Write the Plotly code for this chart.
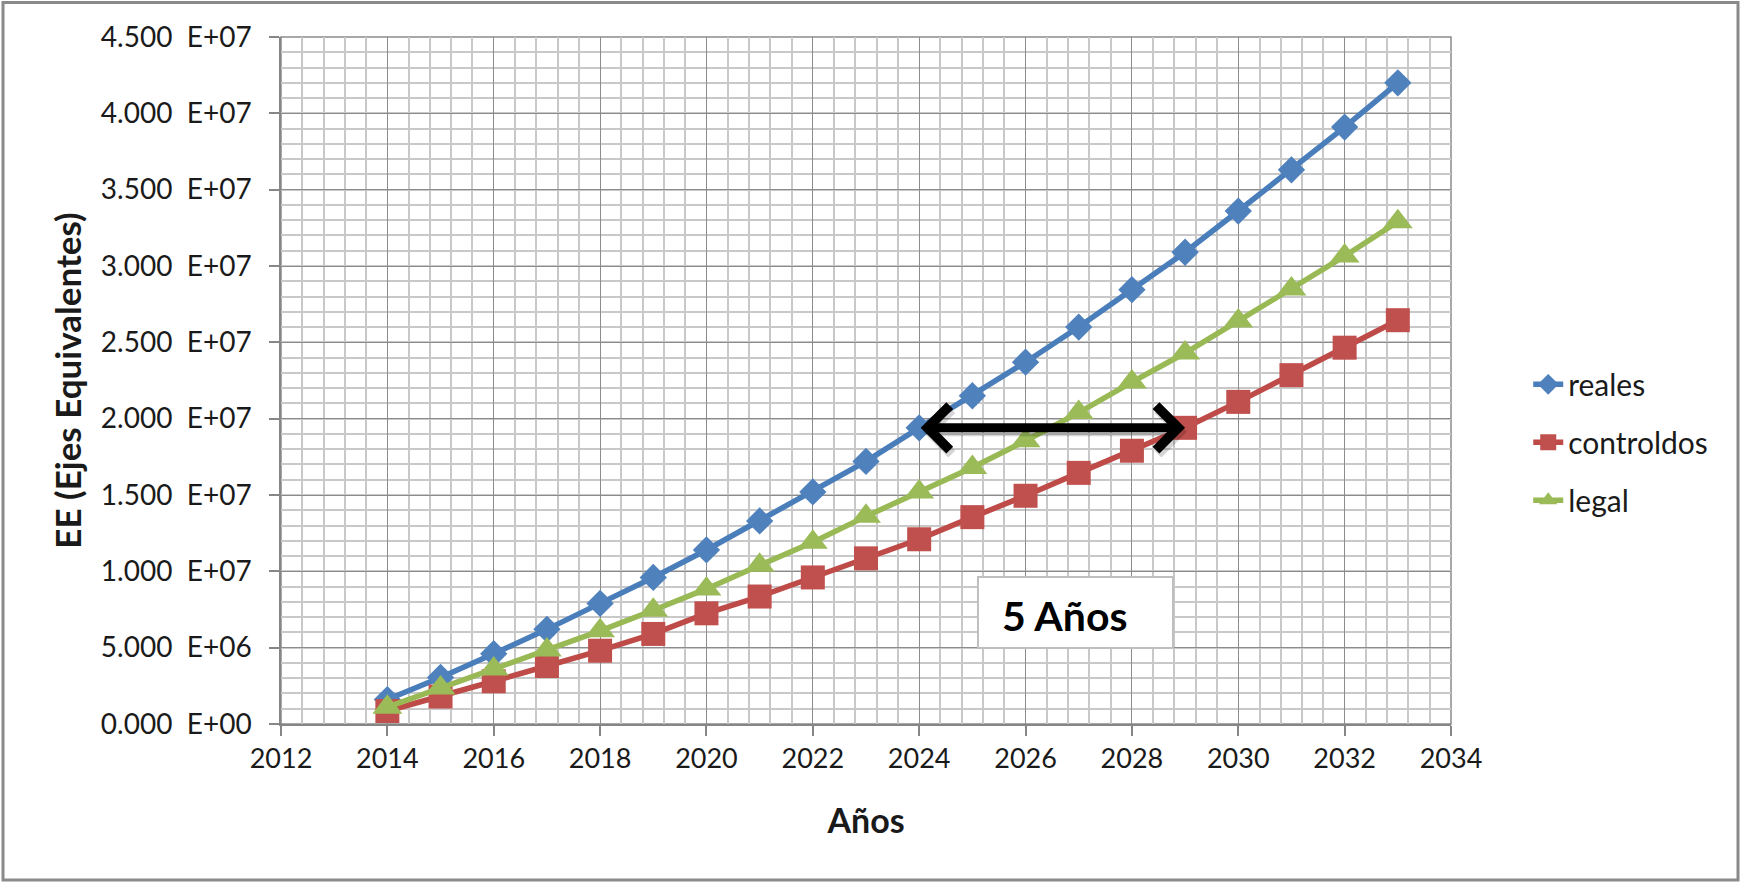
import plotly.graph_objects as go

# Años de proyección
years = list(range(2014, 2034))

# Ejes equivalentes acumulados (valores en unidades)
reales = [1.6e6, 3.05e6, 4.6e6, 6.2e6, 7.9e6, 9.6e6, 11.4e6, 13.3e6, 15.2e6, 17.2e6,
          19.4e6, 21.5e6, 23.7e6, 26.0e6, 28.45e6, 30.9e6, 33.6e6, 36.3e6, 39.1e6, 42.0e6]
controldos = [0.85e6, 1.8e6, 2.8e6, 3.8e6, 4.8e6, 5.9e6, 7.25e6, 8.35e6, 9.6e6, 10.85e6,
              12.1e6, 13.55e6, 14.95e6, 16.45e6, 17.9e6, 19.4e6, 21.1e6, 22.85e6, 24.65e6, 26.45e6]
legal = [1.1e6, 2.35e6, 3.6e6, 4.85e6, 6.1e6, 7.45e6, 8.85e6, 10.4e6, 11.9e6, 13.6e6,
         15.2e6, 16.8e6, 18.55e6, 20.4e6, 22.4e6, 24.3e6, 26.4e6, 28.5e6, 30.65e6, 32.9e6]

# Etiquetas del eje Y
y_tick_vals = [0, 5e6, 10e6, 15e6, 20e6, 25e6, 30e6, 35e6, 40e6, 45e6]
y_tick_text = ["0.000\u00a0\u00a0E+00", "5.000\u00a0\u00a0E+06", "1.000\u00a0\u00a0E+07",
               "1.500\u00a0\u00a0E+07", "2.000\u00a0\u00a0E+07", "2.500\u00a0\u00a0E+07",
               "3.000\u00a0\u00a0E+07", "3.500\u00a0\u00a0E+07", "4.000\u00a0\u00a0E+07",
               "4.500\u00a0\u00a0E+07"]

# Periodo comparado con la flecha
arrow_from, arrow_to = 2024, 2029
arrow_level = reales[years.index(arrow_from)]

FONT = "Lato, 'Open Sans', sans-serif"
TXT = "#1a1a1a"

fig = go.Figure()

series = [
    ("reales", reales, "diamond", 21, "#4F81BD", "#4A7EBB"),
    ("controldos", controldos, "square", 24, "#C0504D", "#BE4B48"),
    ("legal", legal, "triangle-up", 26, "#9BBB59", "#98B954"),
]
for name, vals, sym, size, mcol, lcol in series:
    fig.add_trace(go.Scatter(
        x=years, y=vals, name=name, mode="lines+markers",
        line=dict(color=lcol, width=5.5),
        marker=dict(symbol=sym, size=size, color=mcol, line=dict(width=0)),
        legendgroup=name, cliponaxis=False,
    ))

axis_common = dict(
    showline=True, linecolor="#868686", linewidth=1.5,
    ticks="outside", ticklen=10, tickcolor="#868686", tickwidth=1.5,
    showgrid=True, gridcolor="#8C8C8C", gridwidth=1.2,
    zeroline=False,
    layer="below traces",
)

fig.update_xaxes(
    **axis_common,
    tickfont=dict(family=FONT, size=27, color=TXT),
    range=[2012, 2034], tick0=2012, dtick=2,
    minor=dict(dtick=0.4, tick0=2012, showgrid=True, gridcolor="#C8C8C8", gridwidth=1.7, ticks=""),
    title=dict(text="<b>Años</b>", font=dict(family=FONT, size=34, color=TXT), standoff=36),
)
fig.update_yaxes(
    **axis_common,
    tickfont=dict(family=FONT, size=28, color=TXT),
    ticklabelstandoff=12,
    range=[0, 45e6], tickvals=y_tick_vals, ticktext=y_tick_text,
    minor=dict(dtick=1e6, tick0=0, showgrid=True, gridcolor="#C8C8C8", gridwidth=1.7, ticks=""),
    title=dict(text="<b>EE (Ejes Equivalentes)</b>", font=dict(family=FONT, size=35, color=TXT), standoff=9),
)

# Marco exterior del gráfico
fig.add_shape(type="rect", xref="paper", yref="paper",
              x0=-0.2376, x1=1.2453, y0=-0.2269, y1=1.0502,
              line=dict(color="#8a8a8a", width=3), fillcolor="rgba(0,0,0,0)", layer="above")
# Borde del área de trazado
fig.add_shape(type="rect", xref="paper", yref="paper", x0=0, x1=1, y0=0, y1=1,
              line=dict(color="#8C8C8C", width=1.5), layer="below")

# Cuadro de texto "5 Años"
fig.add_shape(type="rect", xref="paper", yref="paper",
              x0=0.5957, x1=0.7624, y0=0.1105, y1=0.2138,
              line=dict(color="#BFBFBF", width=2), fillcolor="white", layer="above")
fig.add_annotation(text="<b>5 Años</b>", xref="paper", yref="paper",
                   x=0.6145, y=0.1585, xanchor="left", yanchor="middle", showarrow=False,
                   font=dict(family=FONT, size=41, color="#000000"))

# Flecha doble entre 2024 y 2029, con una sombra suave debajo
arrow_style = dict(x=arrow_to, y=arrow_level, ax=arrow_from, ay=arrow_level,
                   xref="x", yref="y", axref="x", ayref="y", text="",
                   showarrow=True, arrowhead=4, startarrowhead=4, arrowside="end+start",
                   arrowsize=0.95, startarrowsize=0.95, arrowwidth=9)
fig.add_annotation(**arrow_style, arrowcolor="rgba(0,0,0,0.16)", xshift=2, yshift=-4)
fig.add_annotation(**arrow_style, arrowcolor="#000000")

fig.update_layout(
    width=1740, height=882,
    margin=dict(l=281, r=289, t=37, b=158),
    paper_bgcolor="white", plot_bgcolor="white",
    font=dict(family=FONT, color=TXT),
    legend=dict(x=1.066, xanchor="left", y=0.41, yanchor="middle",
                font=dict(family=FONT, size=30, color=TXT),
                tracegroupgap=16, bgcolor="rgba(0,0,0,0)"),
)

fig.write_html("out.html")
